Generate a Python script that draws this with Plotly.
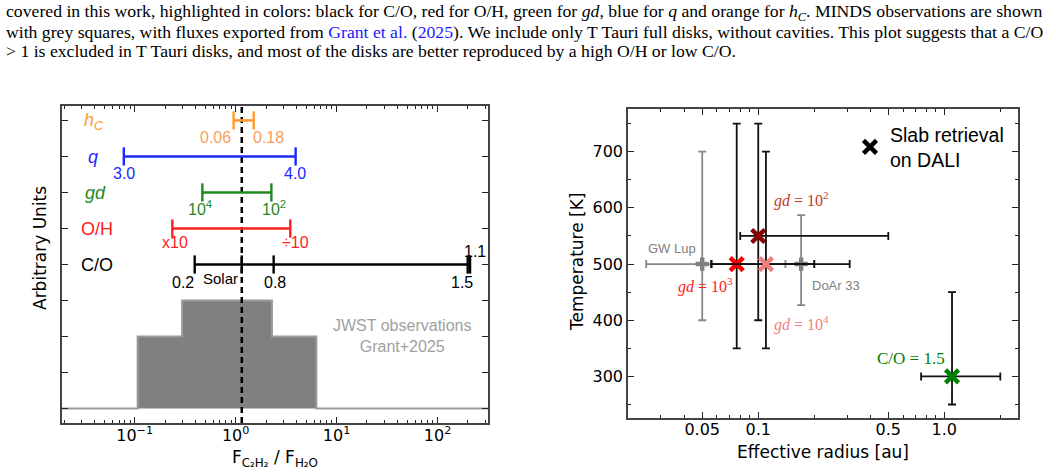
import numpy as np
import plotly.graph_objects as go

W, H = 1056, 474

# ---------------- left panel data ----------------
ROW_LEVELS = {"C/O": 4, "O/H": 5, "gd": 6, "q": 7, "hC": 8}
CO_POINTS = [0.393, 1.15, 2.38, 199.0, 210.0]
OH_RANGE = [0.236, 3.48]
GD_RANGE = [0.468, 2.26]
Q_RANGE = [0.078, 3.93]
HC_RANGE = [0.955, 1.51]
SOLAR_RATIO = 1.15
HIST_EDGES = [0.013, 0.107, 0.295, 0.813, 2.29, 6.31, 500.0]
HIST_COUNTS = [0, 2, 3, 3, 2, 0]
LEFT_XTICKS = [0.1, 1, 10, 100]
LEFT_XTICKTEXT = ["10<sup>−1</sup>", "10<sup>0</sup>", "10<sup>1</sup>", "10<sup>2</sup>"]
LEFT_YTICKS = [0, 1, 2, 3, 4, 5, 6, 7, 8]
LEFT_YRANGE = [-0.4, 8.4]

# ---------------- right panel data ----------------
OBS_NAMES = ["GW Lup", "DoAr 33"]
OBS_R = [0.05, 0.17]
OBS_R_LO = [0.025, 0.14]
OBS_R_HI = [0.056, 0.20]
OBS_T = [500, 500]
OBS_T_LO = [400, 427]
OBS_T_HI = [700, 587]

DALI_NAMES = ["gd=1e2", "gd=1e3", "gd=1e4", "C/O=1.5"]
DALI_COLORS = ["#8b0000", "#ff0000", "#f08080", "#008000"]
DALI_R = [0.10, 0.0766, 0.11, 1.10]
DALI_R_LO = [0.08, 0.056, 0.056, 0.75]
DALI_R_HI = [0.50, 0.20, 0.31, 2.00]
DALI_T = [550, 500, 500, 300]
DALI_T_LO = [400, 350, 350, 250]
DALI_T_HI = [750, 750, 700, 450]

RIGHT_XTICKS = [0.05, 0.1, 0.5, 1.0]
RIGHT_XTICKTEXT = ["0.05", "0.1", "0.5", "1.0"]
RIGHT_YTICKS = [300, 400, 500, 600, 700]


def px(x):
    return x / W


def py(y):
    return 1 - y / H


fig = go.Figure()

# histogram (step filled)
fig.add_trace(go.Scatter(
    x=HIST_EDGES, y=HIST_COUNTS + [HIST_COUNTS[-1]], mode="lines",
    line=dict(shape="hv", color="#9a9a9a", width=2), fill="tozeroy",
    fillcolor="#808080", xaxis="x", yaxis="y", showlegend=False, hoverinfo="skip"))

# solar dashed line
fig.add_trace(go.Scatter(
    x=[SOLAR_RATIO, SOLAR_RATIO], y=LEFT_YRANGE, mode="lines",
    line=dict(color="black", width=2.5, dash="6px,4px"),
    xaxis="x", yaxis="y", showlegend=False, hoverinfo="skip"))

ranges = [("hC", HC_RANGE, "#ff9a2e"), ("q", Q_RANGE, "#1a2bff"),
          ("gd", GD_RANGE, "#1e8a1e"), ("O/H", OH_RANGE, "#ff2020"),
          ("C/O", CO_POINTS, "black")]
for name, vals, col in ranges:
    lvl = ROW_LEVELS[name]
    fig.add_trace(go.Scatter(
        x=vals, y=[lvl] * len(vals), mode="lines+markers",
        line=dict(color=col, width=2.6),
        marker=dict(symbol="line-ns", size=13, line=dict(color=col, width=2.4)),
        xaxis="x", yaxis="y", showlegend=False, hoverinfo="skip"))

# observations (grey)
fig.add_trace(go.Scatter(
    x=OBS_R, y=OBS_T, mode="markers",
    marker=dict(symbol="cross", size=11, color="#808080"),
    error_x=dict(type="data", symmetric=False,
                 array=[h - c for h, c in zip(OBS_R_HI, OBS_R)],
                 arrayminus=[c - l for l, c in zip(OBS_R_LO, OBS_R)],
                 color="#888888", thickness=1.8, width=4),
    error_y=dict(type="data", symmetric=False,
                 array=[h - c for h, c in zip(OBS_T_HI, OBS_T)],
                 arrayminus=[c - l for l, c in zip(OBS_T_LO, OBS_T)],
                 color="#888888", thickness=1.8, width=4),
    xaxis="x2", yaxis="y2", showlegend=False, hoverinfo="skip"))

# DALI slab retrievals
for i in range(len(DALI_NAMES)):
    fig.add_trace(go.Scatter(
        x=[DALI_R[i]], y=[DALI_T[i]], mode="markers",
        marker=dict(symbol="x-thin", size=13, color=DALI_COLORS[i],
                    line=dict(color=DALI_COLORS[i], width=4.5)),
        error_x=dict(type="data", symmetric=False,
                     array=[DALI_R_HI[i] - DALI_R[i]],
                     arrayminus=[DALI_R[i] - DALI_R_LO[i]],
                     color="#111111", thickness=1.8, width=4),
        error_y=dict(type="data", symmetric=False,
                     array=[DALI_T_HI[i] - DALI_T[i]],
                     arrayminus=[DALI_T[i] - DALI_T_LO[i]],
                     color="#111111", thickness=1.8, width=4),
        xaxis="x2", yaxis="y2", showlegend=False, hoverinfo="skip"))

# legend entry
fig.add_trace(go.Scatter(
    x=[None], y=[None], mode="markers", name="Slab retrieval<br>on DALI",
    marker=dict(symbol="x-thin", size=13, color="black",
                line=dict(color="black", width=4.5)),
    xaxis="x2", yaxis="y2", showlegend=True))

base_axis = dict(showline=True, linecolor="#444444", linewidth=1.5, mirror="allticks",
                 ticks="inside", ticklen=6, tickwidth=1.2, tickcolor="#222222",
                 showgrid=False, zeroline=False,
                 tickfont=dict(family="DejaVu Sans", size=16, color="black"))
minor_log = dict(ticks="inside", ticklen=3, tickwidth=1, tickcolor="#222222",
                 dtick="D1", showgrid=False)

fig.update_layout(
    width=W, height=H, margin=dict(l=0, r=0, t=0, b=0),
    paper_bgcolor="white", plot_bgcolor="white",
    xaxis=dict(base_axis, type="log", range=[-1.72, 2.5], domain=[px(62), px(488)],
               anchor="y", tickmode="array", tickvals=LEFT_XTICKS, ticktext=LEFT_XTICKTEXT,
               minor=minor_log, ticklabelstandoff=-3),
    yaxis=dict(base_axis, range=LEFT_YRANGE, domain=[py(423), py(106)], anchor="x",
               tickmode="array", tickvals=LEFT_YTICKS, showticklabels=False),
    xaxis2=dict(base_axis, type="log", range=[-1.70, 0.396], domain=[px(628), px(1018)],
                anchor="y2", tickmode="array", tickvals=RIGHT_XTICKS, ticktext=RIGHT_XTICKTEXT,
                minor=minor_log, ticklabelstandoff=-4),
    yaxis2=dict(base_axis, range=[226, 776], domain=[py(418), py(109)], anchor="x2",
                tickmode="array", tickvals=RIGHT_YTICKS,
                minor=dict(ticks="inside", ticklen=3, tickwidth=1, tickcolor="#222222",
                           dtick=50, showgrid=False)),
    legend=dict(x=px(850), y=py(115), xanchor="left", yanchor="top",
                bgcolor="rgba(0,0,0,0)", font=dict(family="Liberation Sans", size=19.5, color="black"),
                itemsizing="trace"),
)

ann = []


def text(x, y, s, color="black", size=16, family="Liberation Sans", xanchor="center",
         yanchor="middle", angle=0):
    ann.append(dict(x=px(x), y=py(y), xref="paper", yref="paper", text=s, showarrow=False,
                    xanchor=xanchor, yanchor=yanchor, textangle=angle,
                    font=dict(family=family, size=size, color=color)))


# caption
SERIF = "Liberation Serif"
BLUE = "#1a1aff"
cap1 = ("covered in this work, highlighted in colors: black for C/O, red for O/H, green for <i>gd</i>, "
        "blue for <i>q</i> and orange for <i>h<sub>C</sub></i>. MINDS observations are shown")
cap2 = ("with grey squares, with fluxes exported from <span style='color:%s'>Grant et al.</span> "
        "(<span style='color:%s'>2025</span>). We include only T Tauri full disks, without cavities. "
        "This plot suggests that a C/O" % (BLUE, BLUE))
cap3 = "&gt; 1 is excluded in T Tauri disks, and most of the disks are better reproduced by a high O/H or low C/O."
text(4, 12, cap1, size=17.7, family=SERIF, xanchor="left")
text(4, 32, cap2, size=17.7, family=SERIF, xanchor="left")
text(4, 51, cap3, size=17.7, family=SERIF, xanchor="left")

# left panel row labels
text(94, 122, "<i>h<sub>C</sub></i>", "#ff9a2e", 18)
text(93, 157, "<i>q</i>", "#1a2bff", 18)
text(95, 193, "<i>gd</i>", "#1e8a1e", 18)
text(97, 229, "O/H", "#ff2020", 18)
text(97, 265, "C/O", "black", 18)
# range labels
text(215, 137, "0.06", "#f5a060", 16)
text(268, 137, "0.18", "#f5a060", 16)
text(124, 173, "3.0", "#1a2bff", 16)
text(295, 173, "4.0", "#1a2bff", 16)
text(200, 208, "10<sup>4</sup>", "#1e8a1e", 16)
text(274, 208, "10<sup>2</sup>", "#1e8a1e", 16)
text(175, 243, "x10", "#ff2020", 16)
text(295, 243, "÷10", "#ff2020", 16)
text(183, 282, "0.2", "black", 16)
text(220, 278, "Solar", "black", 15)
text(275, 282, "0.8", "black", 16)
text(462, 282, "1.5", "black", 16)
text(475, 251, "1.1", "black", 16)
text(402, 336, "JWST observations<br>Grant+2025", "#a0a0a0", 16)

# left axis titles
text(40, 248, "Arbitrary Units", "black", 17, "DejaVu Sans", angle=-90)
text(275, 458, "F<sub>C₂H₂</sub> / F<sub>H₂O</sub>", "black", 17, "DejaVu Sans")

# right panel labels
text(672, 248, "GW Lup", "#808080", 13)
text(836, 285, "DoAr 33", "#808080", 13)
text(801, 200, "<i>gd</i> = 10<sup>2</sup>", "#c0392b", 16, SERIF)
text(705, 285, "<i>gd</i> = 10<sup>3</sup>", "#ff2020", 16, SERIF)
text(801, 323, "<i>gd</i> = 10<sup>4</sup>", "#f08080", 16, SERIF)
text(911, 358, "C/O = 1.5", "#008000", 17, SERIF)

text(577, 262, "Temperature [K]", "black", 17, "DejaVu Sans", angle=-90)
text(823, 452, "Effective radius [au]", "black", 17, "DejaVu Sans")

fig.update_layout(annotations=ann)
fig.write_html("out.html")
